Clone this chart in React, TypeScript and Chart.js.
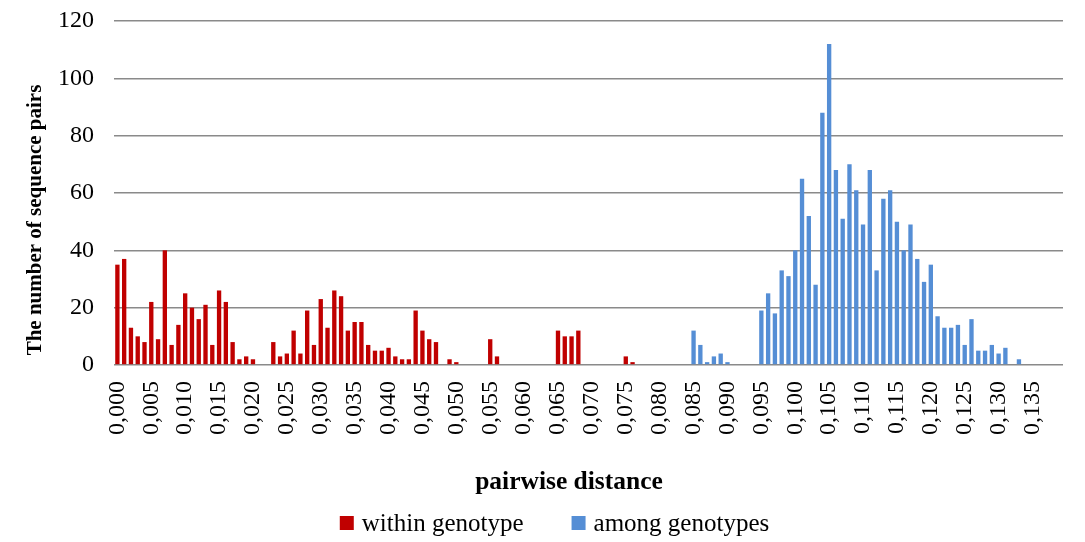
import React, { useEffect, useRef } from "react";
import { Chart, registerables } from "chart.js";

Chart.register(...registerables);

// Category labels: pairwise distance 0,000 ... 0,139 (step 0,001)
const distances: string[] = Array.from({ length: 140 }, (_, i) =>
  (i / 1000).toFixed(3).replace(".", ",")
);

const withinGenotype: number[] = [
  35, 37, 13, 10, 8, 22, 9, 40, 7, 14,
  25, 20, 16, 21, 7, 26, 22, 8, 2, 3,
  2, 0, 0, 8, 3, 4, 12, 4, 19, 7,
  23, 13, 26, 24, 12, 15, 15, 7, 5, 5,
  6, 3, 2, 2, 19, 12, 9, 8, 0, 2,
  1, 0, 0, 0, 0, 9, 3, 0, 0, 0,
  0, 0, 0, 0, 0, 12, 10, 10, 12, 0,
  0, 0, 0, 0, 0, 3, 1, 0, 0, 0,
  0, 0, 0, 0, 0, 0, 0, 0, 0, 0,
  0, 0, 0, 0, 0, 0, 0, 0, 0, 0,
  0, 0, 0, 0, 0, 0, 0, 0, 0, 0,
  0, 0, 0, 0, 0, 0, 0, 0, 0, 0,
  0, 0, 0, 0, 0, 0, 0, 0, 0, 0,
  0, 0, 0, 0, 0, 0, 0, 0, 0, 0,
];

const amongGenotypes: number[] = [
  0, 0, 0, 0, 0, 0, 0, 0, 0, 0,
  0, 0, 0, 0, 0, 0, 0, 0, 0, 0,
  0, 0, 0, 0, 0, 0, 0, 0, 0, 0,
  0, 0, 0, 0, 0, 0, 0, 0, 0, 0,
  0, 0, 0, 0, 0, 0, 0, 0, 0, 0,
  0, 0, 0, 0, 0, 0, 0, 0, 0, 0,
  0, 0, 0, 0, 0, 0, 0, 0, 0, 0,
  0, 0, 0, 0, 0, 0, 0, 0, 0, 0,
  0, 0, 0, 0, 0, 12, 7, 1, 3, 4,
  1, 0, 0, 0, 0, 19, 25, 18, 33, 31,
  40, 65, 52, 28, 88, 112, 68, 51, 70, 61,
  49, 68, 33, 58, 61, 50, 40, 49, 37, 29,
  35, 17, 13, 13, 14, 7, 16, 5, 5, 7,
  4, 6, 0, 2, 0, 0, 0, 0, 0, 0,
];

const yTicks: number[] = [0, 20, 40, 60, 80, 100, 120];

const seriesLabels = ["within genotype", "among genotypes"];
const seriesColors = ["#C00000", "#558ED5"];
const yTitle = "The number of sequence pairs";
const xTitle = "pairwise distance";

const FONT = "'Liberation Serif', 'Times New Roman', serif";

const overlayPlugin = {
  id: "overlay",
  afterDraw(chart: any) {
    const ctx = chart.ctx;
    ctx.save();
    // y axis title
    ctx.font = `bold 21px ${FONT}`;
    ctx.fillStyle = "#000";
    ctx.textAlign = "center";
    ctx.textBaseline = "middle";
    ctx.translate(36, 220);
    ctx.rotate(-Math.PI / 2);
    ctx.fillText(yTitle, 0, 0);
    ctx.restore();

    // x axis title
    ctx.save();
    ctx.font = `bold 25.5px ${FONT}`;
    ctx.fillStyle = "#000";
    ctx.textAlign = "center";
    ctx.textBaseline = "middle";
    ctx.fillText(xTitle, 569, 482);
    ctx.restore();

    // legend
    ctx.save();
    ctx.font = `25px ${FONT}`;
    ctx.textBaseline = "middle";
    ctx.textAlign = "left";
    const box = 14;
    const gapText = 8;
    const gapItems = 48;
    const items = chart.data.datasets.map((d: any) => ({
      label: d.label,
      color: d.backgroundColor,
      w: box + gapText + ctx.measureText(d.label).width,
    }));
    const total = items.reduce((s: number, it: any) => s + it.w, 0) + gapItems * (items.length - 1);
    let x = (chart.width - total) / 2 + 12;
    const cy = 523;
    items.forEach((it: any) => {
      ctx.fillStyle = it.color;
      ctx.fillRect(x, cy - box / 2, box, box);
      ctx.fillStyle = "#000";
      ctx.fillText(it.label, x + box + gapText, cy + 1);
      x += it.w + gapItems;
    });
    ctx.restore();
  },
};

export default function App() {
  const ref = useRef<HTMLCanvasElement | null>(null);

  useEffect(() => {
    if (!ref.current) return;
    const chart = new Chart(ref.current, {
      type: "bar",
      data: {
        labels: distances,
        datasets: [
          {
            label: seriesLabels[0],
            data: withinGenotype,
            backgroundColor: seriesColors[0],
            borderWidth: 0,
            grouped: false,
            barPercentage: 0.64,
            categoryPercentage: 1,
          } as any,
          {
            label: seriesLabels[1],
            data: amongGenotypes,
            backgroundColor: seriesColors[1],
            borderWidth: 0,
            grouped: false,
            barPercentage: 0.64,
            categoryPercentage: 1,
          } as any,
        ],
      },
      options: {
        responsive: false,
        animation: false,
        devicePixelRatio: 1,
        layout: { padding: { left: 20, right: 22, top: 21, bottom: 0 } },
        plugins: {
          legend: { display: false },
          tooltip: { enabled: false },
        },
        scales: {
          x: {
            type: "category",
            grid: { display: false, drawTicks: false },
            border: { display: false },
            ticks: {
              autoSkip: false,
              minRotation: 90,
              maxRotation: 90,
              padding: 16,
              color: "#000",
              font: { family: FONT, size: 24 },
              callback: function (this: any, _v: any, i: number) {
                return i % 5 === 0 ? distances[i] : "";
              },
            },
            afterFit: (scale: any) => {
              scale.height = 542 - 365;
              scale.paddingLeft = 0;
              scale.paddingRight = 0;
            },
          },
          y: {
            min: 0,
            max: 120,
            afterBuildTicks: (scale: any) => {
              scale.ticks = yTicks.map((v) => ({ value: v }));
            },
            grid: {
              color: "#8a8a8a",
              lineWidth: 1.6,
              drawTicks: false,
            },
            border: { display: false },
            ticks: {
              padding: 20,
              color: "#000",
              font: { family: FONT, size: 24 },
            },
            afterFit: (scale: any) => {
              scale.width = 94;
              scale.paddingTop = 0;
              scale.paddingBottom = 0;
            },
          },
        },
      },
      plugins: [overlayPlugin],
    });
    return () => chart.destroy();
  }, []);

  return (
    <div style={{ position: "fixed", left: 0, top: 0, width: 1085, height: 542, background: "#fff" }}>
      <canvas ref={ref} width={1085} height={542} />
    </div>
  );
}
